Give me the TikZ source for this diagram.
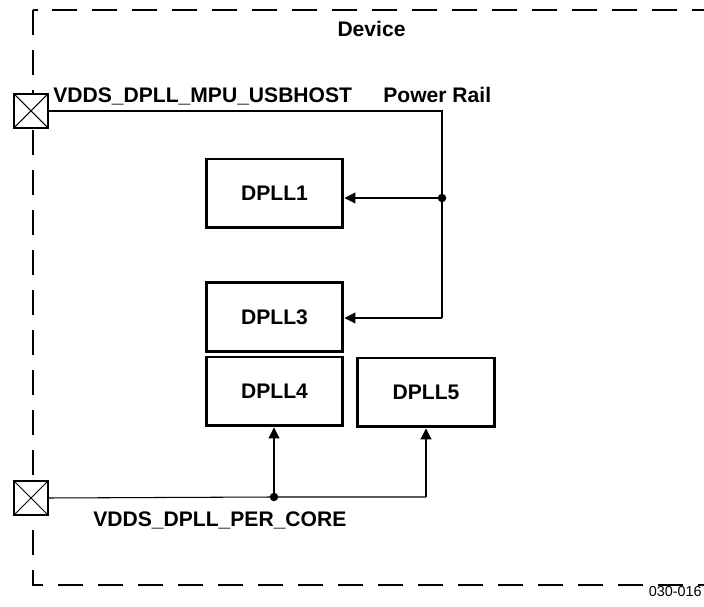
\documentclass[tikz,border=0pt]{standalone}
\usepackage{fontspec}
\setmainfont{Liberation Sans}
\usetikzlibrary{arrows.meta}

\begin{document}
\begin{tikzpicture}[x=0.02cm,y=-0.02cm,
  font=\fontsize{12}{14}\selectfont\bfseries,
  dpllbox/.style={draw,line width=1.7pt,fill=white,minimum width=2.74cm,minimum height=1.38cm,inner sep=0pt},
  padbox/.style={draw,line width=0.9pt,fill=white,minimum size=0.68cm,inner sep=0pt,
    path picture={\draw[line width=0.6pt] (path picture bounding box.north west) -- (path picture bounding box.south east)
      (path picture bounding box.south west) -- (path picture bounding box.north east);}},
  lbl/.style={anchor=base west,inner sep=0pt},
  rail/.style={line width=0.6pt},
  feed/.style={rail,-{Triangle[length=0.22cm,width=0.22cm]}},
  joint/.style={circle,fill,inner sep=0pt,minimum size=0.17cm}]
\clip (0,0) rectangle (704,607);
% device outline
\draw[line width=1.1pt,dash pattern=on 0.5cm off 0.3cm] (33,10) rectangle (740,585);
\node[anchor=base] (dev) at (371.5,37) {Device};
% pads
\node[padbox] (pad1) at (31,111) {};
\node[padbox] (pad2) at (31,498) {};
\node[lbl] (usb) at (53,103) {VDDS\_DPLL\_MPU\_USBHOST};
\node[lbl] (pwr) at (383,103) {Power Rail};
\node[lbl] (core) at (93,527) {VDDS\_DPLL\_PER\_CORE};
% dplls
\node[dpllbox] (dpll1) at (274.5,193.5) {DPLL1};
\node[dpllbox] (dpll3) at (274.5,317) {DPLL3};
\node[dpllbox] (dpll4) at (274.5,391.5) {DPLL4};
\node[dpllbox,minimum width=2.76cm] (dpll5) at (426,392.5) {DPLL5};
% rails
\coordinate (c1) at (442,111);
\coordinate (c3) at (442,318);
\node[joint] (j1) at (442,198) {};
\node[joint] (j2) at (274,497) {};
\coordinate (c5) at (426,497);
\draw[rail] (pad1.east) -- (c1) -- (j1.center) -- (c3);
\draw[feed] (j1.center) -- (dpll1.east |- j1);
\draw[feed] (c3) -- (dpll3.east |- c3);
\draw[rail] (pad2.east) -- (j2.center) -- (c5);
\draw[feed] (j2.center) -- (j2 |- dpll4.south);
\draw[feed] (c5) -- (dpll5.south);
\node[anchor=base east,inner sep=0pt,font=\fontsize{8.2}{10}\selectfont] (fig) at (702,597) {030-016};
\end{tikzpicture}
\end{document}
